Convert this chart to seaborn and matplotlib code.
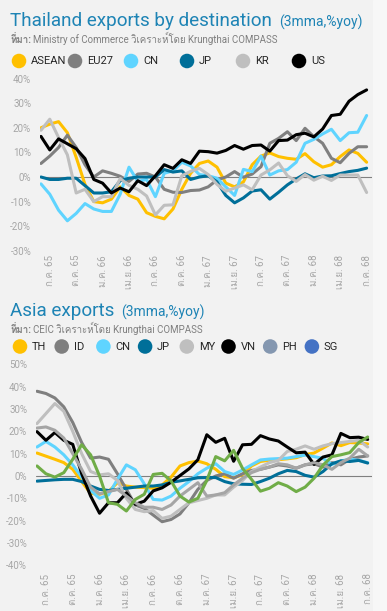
import numpy as np
import pandas as pd
import matplotlib
matplotlib.use("Agg")
import matplotlib.pyplot as plt
from matplotlib import font_manager
from matplotlib.patches import Rectangle
import seaborn as sns

# ---- ข้อมูล 3mma %yoy รายเดือน มิ.ย. 65 - ก.ค. 68 (38 จุด) อ่านค่าจากภาพต้นฉบับ
th_month = ["ม.ค.", "ก.พ.", "มี.ค.", "เม.ย.", "พ.ค.", "มิ.ย.",
            "ก.ค.", "ส.ค.", "ก.ย.", "ต.ค.", "พ.ย.", "ธ.ค."]
months = [f"{th_month[(5 + k) % 12]} {65 + (5 + k) // 12}" for k in range(38)]

# Thailand exports by destination
asean = [20, 21.5, 22.5, 18, 8, -3, -10, -10.5, -9, -4, -7.5, -9, -14.5, -16, -17, -13, -5, 1.5, 5.5,
         6.5, 4, -2.5, -4, -2, 5, 8.5, 9.8, 8.3, 7.6, 7.2, 9.5, 6.2, 4, 5, 8.3, 11, 9.6, 6]
eu27 = [5.5, 8.5, 12, 17, 12, 5, 0, 2.5, 1.5, 0.3, -1.8, 1.2, 1.5, 0, -5, -6.2, -6.3, -5.5, -5.3,
        -4, -1.2, 0, 2.2, -0.1, 1.2, 4.2, 13.7, 15.7, 18.4, 14.8, 19.8, 16.4, 13.7, 7.6, 5.8, 9.6, 12.3, 12.3]
cn = [-2.8, -7, -13.5, -17.8, -14.8, -10.8, -13, -14, -14, -7, 4, -1.8, -1, -8, 1.5, 2.5, 6, 4.5, 1,
      0.5, -0.5, -4, -7.5, 3.1, 2.2, 8.5, 0.8, 2.5, 3, 6, 13.7, 15.3, 17.5, 19.4, 14.8, 18, 18.2, 25]
jp = [0, -1, -1, -0.5, -0.5, -3.5, -6.5, -6.5, -6, -1.5, -0.5, 0, 0, 0, 3, 2, 2.5, -1, 0,
      0.5, -2, -7.5, -10.5, -8.5, -5.7, -5.2, -9, -6.2, -3.2, -0.8, 1.3, -0.3, 0.4, 0.5, 1.4, 2.2, 2.7, 3.6]
kr = [19, 23.5, 16, 9, -6.5, -5, -10, -8, -8, -0.6, -3.4, -5, -7.7, -15.4, -11.5, -11.3, 0.5, 2.3, 3.5,
      1, -3, -5.8, -4.5, -3.2, -5.2, 0.8, 2.9, 5.7, 0.5, -1.8, 1, -1.3, 0.3, -1.4, 0.8, 0.8, 0.8, -6.3]
us = [16.5, 11, 15.5, 13.5, 11.5, 7.5, -1, -2.5, -6.5, -4.5, -6, -1.5, -3.5, 0.5, 5, 3.5, 7, 5.5, 10.5,
      10.3, 9.7, 10.8, 12.8, 11.3, 12.8, 13, 10.5, 14.8, 15, 17.2, 17.8, 16.3, 19.5, 25, 25.5, 30.8, 33.5, 35.4]

# Asia exports
th = [10.3, 8.9, 7.5, 6, 3, -2.5, -7.8, -8.2, -7, -3, -4.5, -5, -5.2, -5.5, -4, -0.5, 4.5, 6, 6.7,
      5.5, 3, -0.3, -0.8, 0.6, 4.5, 6.5, 7.1, 7.3, 7.7, 8.2, 9.6, 10.3, 12.5, 14.8, 13.6, 15, 14.8, 14.4]
idn = [38, 37, 35, 31, 24, 15, 8, 8.5, 7.5, 1, -6, -13, -14.5, -17.5, -20.5, -19.5, -17, -12, -6,
       -2, 0, 1, -1, 1, 2.5, 3, 4, 5, 4.5, 3.5, 5, 5.5, 4, 6, 5, 7.5, 8.5, 9]
cn2 = [13, 15.5, 13, 9.5, 5, -0.5, -6.5, -10, -8.5, -1.5, 5, 2.8, -3.5, -10.5, -10.8, -9, -5.5, -2.5, 1,
       3.5, 5.5, 2, 0.7, 2.7, 5, 7.2, 7.6, 7.8, 8, 8.7, 9.4, 8.7, 7.9, 5.2, 6.7, 7.6, 7, 6]
jp2 = [-2.3, -2, -1.7, -1.5, -1.5, -2.5, -4.5, -6, -6.5, -6, -5.5, -5, -4.5, -4.5, -4, -2.8, -2.2, -1.5, -0.8,
       -0.7, -0.7, -2.5, -3.5, -3.7, -3.8, -2.5, -1, 1, 2.5, 2, 0.3, -0.5, 2, 5.5, 6.8, 6.5, 7, 5.8]
my = [23.5, 28, 32.5, 29, 20, 10, 2, 0.5, 1, -2, -10, -15, -16, -15.5, -19, -18, -15, -12, -11,
      -10, -8.5, -8.5, -5, -2, 2, 4, 6, 7, 11, 12, 13.5, 12, 13.5, 14.5, 15, 15.5, 16, 13]
vn = [19.9, 16, 19.5, 16, 14.2, 1, -9, -16.7, -12, -12, -7.6, -12.7, -11.3, -6.7, -5.3, -2.8, 0.2, 3.2, 7.3,
      18.5, 15.1, 16.9, 6.6, 14, 14.2, 18.1, 16.6, 15.7, 13, 10.4, 10.7, 5.2, 8.5, 9.5, 19.1, 17.2, 17.4, 16.4]
ph = [21.5, 22, 20.5, 17, 10, 3, -5, -8, -7, -6, -9, -12, -14, -14, -15, -13, -9, -6, -3,
      -9, -8.5, -7.5, -4, -1, 1.5, 3, 4, 5.5, 5, 3.5, 5, 6, 5, 3, 6, 8, 12, 9]
sg = [4.5, 1, -0.5, 1.5, 7.5, 14, 9.5, 0, -12, -12.7, -15.7, -10.5, -8.2, 0.7, 1.2, -2.2, -9, -11.7, -10,
      -2, 8.7, 6.8, 11.5, 3.4, -1.5, -6.8, -5.5, -3, -4.5, -7, -5, -1, 4.9, 8.7, 9.5, 10.5, 15, 17.5]

top_names = ["ASEAN", "EU27", "CN", "JP", "KR", "US"]
top_colors = ["#FFC000", "#7F7F7F", "#5FD4FF", "#006F99", "#BFBFBF", "#000000"]
asia_names = ["TH", "ID", "CN", "JP", "MY", "VN", "PH", "SG"]
asia_legend_colors = ["#FFC000", "#7F7F7F", "#5FD4FF", "#006F99", "#BFBFBF", "#000000", "#8497B0", "#4472C4"]
# สีเส้นที่เห็นในกราฟ (PH เป็นเทากลาง, SG เป็นเขียว)
asia_line_colors = ["#FFC000", "#7F7F7F", "#5FD4FF", "#006F99", "#BFBFBF", "#000000", "#A5A5A5", "#70AD47"]

# ---- ฟอนต์: หาฟอนต์ที่มีอักษรไทยไว้เป็นตัวสำรอง
def thai_font_names():
    try:
        from fontTools.ttLib import TTFont
    except Exception:
        return []
    names = []
    for f in font_manager.fontManager.ttflist:
        try:
            cmap = TTFont(f.fname, fontNumber=0, lazy=True).getBestCmap()
        except Exception:
            continue
        if cmap and 0x0E17 in cmap and f.name not in names:
            names.append(f.name)
    return names

sns.set_style("white")
plt.rcParams["font.family"] = ["Roboto"] + thai_font_names() + ["DejaVu Sans"]
plt.rcParams["axes.unicode_minus"] = False

BG = "#F2F2F2"
TITLE_C = "#1E84B5"
TICK_C = "#A6A6A6"
W, H = 387, 611

fig = plt.figure(figsize=(W / 100, H / 100), dpi=100, facecolor=BG)
# แถบขอบขวาสีอ่อนกว่าพื้นหลัง
fig.patches.append(Rectangle((373 / W, 0), 14 / W, 1, transform=fig.transFigure,
                             color="#F7F7F7", zorder=0))


def px_axes(left, right, top, bottom):
    return fig.add_axes([left / W, 1 - bottom / H, (right - left) / W, (bottom - top) / H])


def draw_panel(ax, names, values, colors, ylo, yhi, xlim):
    df = pd.DataFrame({"month": np.arange(len(months))})
    for n, v in zip(names, values):
        df[n] = v
    long = df.melt(id_vars="month", var_name="series", value_name="yoy")
    sns.lineplot(data=long, x="month", y="yoy", hue="series", hue_order=names,
                 palette=dict(zip(names, colors)), linewidth=2.2, legend=False,
                 ax=ax, zorder=3)
    ax.axhline(0, color="#808080", lw=0.8, zorder=2)
    ax.set_facecolor("none")
    ax.set_xlim(*xlim)
    ax.set_ylim(ylo, yhi)
    yt = np.arange(ylo, yhi + 1, 10)
    ax.set_yticks(yt)
    ax.set_yticklabels([f"{int(t)}%" for t in yt])
    ticks = list(range(1, len(months), 3))
    ax.set_xticks(ticks)
    ax.set_xticklabels([months[t] for t in ticks], rotation=90)
    ax.tick_params(length=0, labelsize=7, colors=TICK_C)
    ax.tick_params(axis="y", pad=6.5)
    ax.set_xlabel("")
    ax.set_ylabel("")
    for s in ax.spines.values():
        s.set_visible(False)


ax1 = px_axes(40.1, 371.9, 78.6, 250.8)
draw_panel(ax1, top_names, [asean, eu27, cn, jp, kr, us], top_colors, -30, 40, (-0.1, 37.6))
ax1.tick_params(axis="x", pad=3)

ax2 = px_axes(36.1, 371.7, 364.5, 565.2)
draw_panel(ax2, asia_names, [th, idn, cn2, jp2, my, vn, ph, sg], asia_line_colors, -40, 50, (-0.1, 37.45))
ax2.tick_params(axis="x", pad=6)

# ---- ส่วนหัว / ที่มา / คำอธิบายสัญลักษณ์ (พิกัดเป็นพิกเซล)
ov = fig.add_axes([0, 0, 1, 1])
ov.set_xlim(0, W)
ov.set_ylim(H, 0)
ov.axis("off")


def header(y, title, source):
    t = ov.text(10, y, title, fontsize=13.6, color=TITLE_C, va="baseline")
    ov.annotate("(3mma,%yoy)", xy=(1, 0), xycoords=t, xytext=(5, 0),
                textcoords="offset points", fontsize=10, color=TITLE_C, va="bottom")
    s = ov.text(10, y + 17, "ที่มา:", fontsize=7, color="#7F7F7F",
                fontweight="bold", va="baseline")
    ov.annotate(source, xy=(1, 0), xycoords=s, xytext=(1.5, 0),
                textcoords="offset points", fontsize=7, color="#7F7F7F", va="bottom")


def legend_row(y, names, colors, x0, step):
    for k, (n, c) in enumerate(zip(names, colors)):
        x = x0 + k * step
        ov.scatter([x], [y], s=110, color=c, edgecolor="none")
        ov.text(x + 12, y + 0.5, n, fontsize=8, color="#262626", va="center")


header(26, "Thailand exports by destination",
       "Ministry of Commerce วิเคราะห์โดย Krungthai COMPASS")
legend_row(61, top_names, top_colors, 19, 56)

header(316, "Asia exports", "CEIC วิเคราะห์โดย Krungthai COMPASS")
legend_row(346.5, asia_names, asia_legend_colors, 20, 41.7)

fig.savefig("out.png", dpi=100, facecolor=BG)
